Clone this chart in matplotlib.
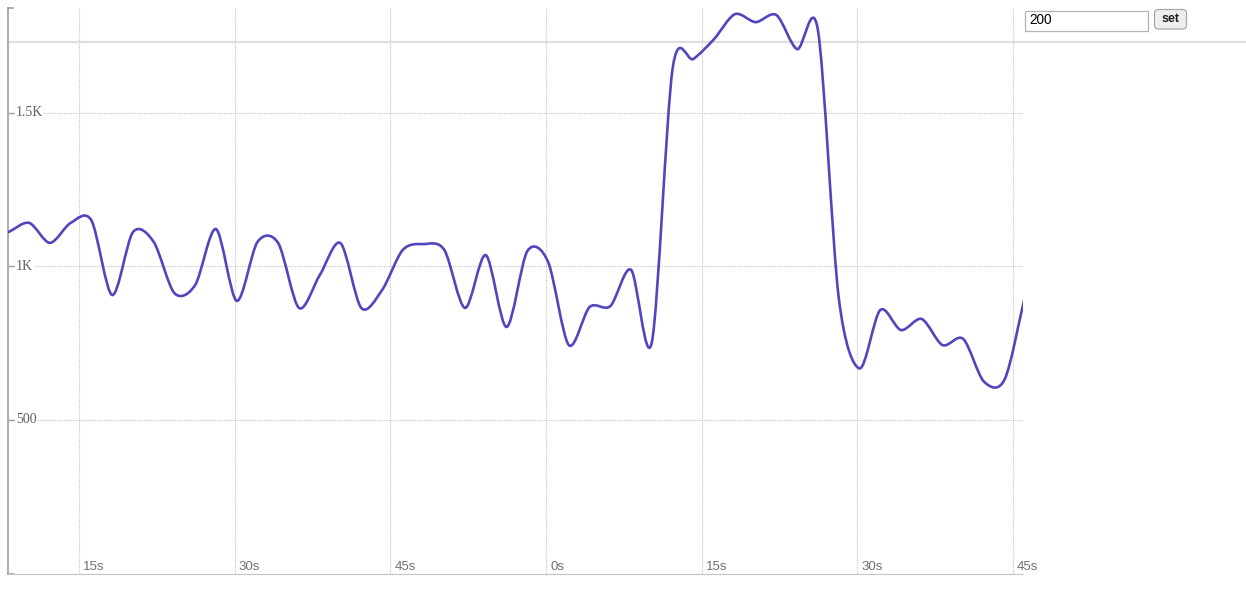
import numpy as np
import matplotlib
matplotlib.use('Agg')
from matplotlib import pyplot as plt
from matplotlib.path import Path
from matplotlib.patches import PathPatch, FancyBboxPatch, Rectangle
import matplotlib.transforms as mtransforms

# one sample every 2 seconds
times = np.arange(50) * 2 + 8.2
values = [1112, 1142, 1077, 1142, 1150, 907, 1112, 1080, 913, 940,
          1122, 888, 1080, 1076, 865, 972, 1076, 865, 923, 1054,
          1073, 1054, 865, 1037, 803, 1050, 1015, 744, 868, 871,
          989, 754, 1645, 1676, 1741, 1822, 1796, 1819, 1708, 1770,
          900, 668, 858, 793, 829, 744, 764, 625, 633, 910]

x_ticks = [15, 30, 45, 60, 75, 90, 105]
x_labels = ['15s', '30s', '45s', '0s', '15s', '30s', '45s']
y_ticks = [500, 1000, 1500]
y_labels = ['500', '1K', '1.5K']
limit_value = 1731
input_text = '200'
button_text = 'set'

line_color = '#5046be'
grid_color = '#c4c4c4'
axis_color = '#a0a0a0'

W, H = 1246, 604
fig = plt.figure(figsize=(W / 100, H / 100), dpi=100)
ax = fig.add_axes([8 / W, 30.5 / H, 1015 / W, 565.5 / H])
ax.set_xlim(8.16, 105.96)
ax.set_ylim(0, 1842)

# grid
ax.set_xticks(x_ticks)
ax.set_yticks(y_ticks)
ax.grid(axis='both', linestyle=(0, (1, 1)), color=grid_color, linewidth=0.8)
ax.set_axisbelow(True)
ax.tick_params(axis='x', length=0, labelbottom=False)
ax.tick_params(axis='y', direction='in', length=5, width=1, color=axis_color, labelleft=False)

for s in ['top', 'right']:
    ax.spines[s].set_visible(False)
ax.spines['left'].set_color(axis_color)
ax.spines['left'].set_linewidth(1.2)
ax.spines['bottom'].set_color(grid_color)
ax.spines['bottom'].set_linestyle((0, (1, 1)))
ax.spines['bottom'].set_linewidth(0.8)

# outer ticks of the y axis
ax.plot([0, 5 / 1015], [1, 1], transform=ax.transAxes, clip_on=False, color=axis_color, lw=1.2)
ax.plot([0, 5 / 1015], [0, 0], transform=ax.transAxes, clip_on=False, color=axis_color, lw=1.2)

# x labels sit inside the plot, right of each gridline
for t, lab in zip(x_ticks, x_labels):
    ax.annotate(lab, xy=(t, 0), xycoords=('data', 'axes fraction'), xytext=(4, 4),
                textcoords='offset pixels', ha='left', va='baseline', fontsize=9.5,
                color='#707070', family='Liberation Sans', annotation_clip=False)

for v, lab in zip(y_ticks, y_labels):
    ax.annotate(lab, xy=(0, v), xycoords=('axes fraction', 'data'), xytext=(8, 0),
                textcoords='offset pixels', ha='left', va='center', fontsize=10,
                color='#606060', family='Liberation Serif', zorder=5,
                bbox=dict(fc='white', ec='none', pad=0.5))

# limit line, runs past the plot to the page edge
blend = mtransforms.blended_transform_factory(ax.transAxes, ax.transData)
ax.plot([0, (W - 8) / 1015], [limit_value, limit_value], transform=blend, clip_on=False,
        color='#dedede', lw=1.6, zorder=1)

# smooth cardinal line through the samples
pts = np.column_stack([times, values]).astype(float)
k = 0.15
tang = np.zeros_like(pts)
tang[1:-1] = k * (pts[2:] - pts[:-2])
tang[0] = 2 * k * (pts[1] - pts[0])
tang[-1] = 2 * k * (pts[-1] - pts[-2])
verts = [pts[0]]
codes = [Path.MOVETO]
for i in range(len(pts) - 1):
    verts += [pts[i] + tang[i], pts[i + 1] - tang[i + 1], pts[i + 1]]
    codes += [Path.CURVE4] * 3
ax.add_patch(PathPatch(Path(verts, codes), fill=False, ec=line_color, lw=1.9,
                       capstyle='round', joinstyle='round', zorder=4))

# input box and button (pixel coords, origin bottom-left)
px = mtransforms.IdentityTransform()
fig.patches.append(Rectangle((1025, H - 30.5), 123, 19.5, transform=px, fc='white',
                             ec='#b4b4b4', lw=0.9))
fig.text(1029, H - 20.5, input_text, transform=px, ha='left', va='center', fontsize=9.8,
         family='Liberation Sans', color='black')
fig.patches.append(FancyBboxPatch((1154.5, H - 29), 32, 19.5, transform=px,
                                  boxstyle='round,pad=0,rounding_size=4',
                                  fc='#eeeeee', ec='#a8a8a8', lw=0.9))
fig.text(1170.5, H - 19.5, button_text, transform=px, ha='center', va='center', fontsize=9,
         family='Liberation Sans', weight='bold', color='#222222')

fig.savefig('out.png', dpi=100)
